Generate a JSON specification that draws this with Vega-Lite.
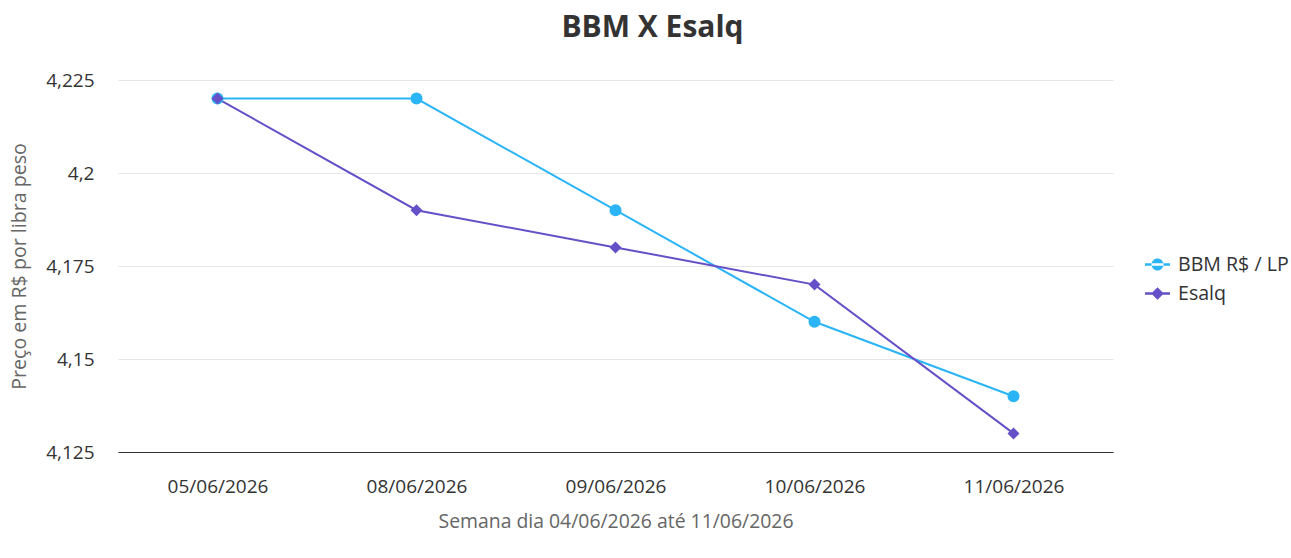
{
  "$schema": "https://vega.github.io/schema/vega-lite/v6.json",
  "width": 995,
  "height": 372,
  "autosize": {"type": "none"},
  "padding": {"left": 118, "top": 80, "right": 178, "bottom": 106},
  "background": "#ffffff",
  "title": {
    "text": "BBM X Esalq",
    "fontSize": 30,
    "fontWeight": "bold",
    "font": "Open Sans",
    "color": "#333333",
    "anchor": "middle",
    "dx": 37,
    "offset": 28
  },
  "data": {
    "values": [
      {"data": "05/06/2026", "serie": "BBM R$ / LP", "preco": 4.22},
      {"data": "08/06/2026", "serie": "BBM R$ / LP", "preco": 4.22},
      {"data": "09/06/2026", "serie": "BBM R$ / LP", "preco": 4.19},
      {"data": "10/06/2026", "serie": "BBM R$ / LP", "preco": 4.16},
      {"data": "11/06/2026", "serie": "BBM R$ / LP", "preco": 4.14},
      {"data": "05/06/2026", "serie": "Esalq", "preco": 4.22},
      {"data": "08/06/2026", "serie": "Esalq", "preco": 4.19},
      {"data": "09/06/2026", "serie": "Esalq", "preco": 4.18},
      {"data": "10/06/2026", "serie": "Esalq", "preco": 4.17},
      {"data": "11/06/2026", "serie": "Esalq", "preco": 4.13}
    ]
  },
  "encoding": {
    "x": {
      "field": "data",
      "type": "nominal",
      "sort": null,
      "scale": {"type": "point", "padding": 0.5},
      "axis": {
        "title": "Semana dia 04/06/2026 até 11/06/2026",
        "labelAngle": 0,
        "labelFontSize": 19,
        "labelColor": "#333333",
        "labelPadding": 25,
        "ticks": false,
        "domainColor": "#333333",
        "domainWidth": 1,
        "grid": false,
        "titleFontSize": 19.4,
        "titleFontWeight": "normal",
        "titleColor": "#666666",
        "titlePadding": 16
      }
    },
    "y": {
      "field": "preco",
      "type": "quantitative",
      "scale": {"domain": [4.125, 4.225], "nice": false, "zero": false},
      "axis": {
        "title": "Preço em R$ por libra peso",
        "values": [4.125, 4.15, 4.175, 4.2, 4.225],
        "labelExpr": "replace(format(datum.value, '.3~f'), '.', ',')",
        "labelFontSize": 19,
        "labelColor": "#333333",
        "labelPadding": 24,
        "ticks": false,
        "domain": false,
        "gridColor": "#e6e6e6",
        "gridWidth": 1,
        "titleFontSize": 19.6,
        "titleFontWeight": "normal",
        "titleColor": "#666666",
        "titlePadding": 16
      }
    },
    "color": {
      "field": "serie",
      "type": "nominal",
      "scale": {"domain": ["BBM R$ / LP", "Esalq"], "range": ["#2bb5f6", "#6650c8"]},
      "legend": {
        "title": null,
        "orient": "none",
        "legendX": 1027,
        "legendY": 172,
        "labelFontSize": 19.6,
        "labelColor": "#333333",
        "labelFont": "Open Sans",
        "symbolSize": 625,
        "symbolType": "M-1,-0.1H1V0.1H-1Z M-0.48,0A0.48,0.48 0 1,0 0.48,0A0.48,0.48 0 1,0 -0.48,0Z",
        "symbolStrokeWidth": 0,
        "rowPadding": 6,
        "labelOffset": 8,
        "encode": {
          "symbols": {
            "update": {
              "shape": {"signal": "datum.value === 'Esalq' ? 'M-1,-0.1H1V0.1H-1Z M0,-0.5L0.5,0L0,0.5L-0.5,0Z' : 'M-1,-0.1H1V0.1H-1Z M-0.48,0A0.48,0.48 0 1,0 0.48,0A0.48,0.48 0 1,0 -0.48,0Z'"},
              "fill": {"scale": "color", "field": "value"},
              "fillOpacity": {"value": 1},
              "strokeWidth": {"value": 0}
            }
          }
        }
      }
    }
  },
  "layer": [
    {
      "mark": {"type": "line", "strokeWidth": 2},
      "encoding": {}
    },
    {
      "transform": [{"filter": "datum.serie === 'BBM R$ / LP'"}],
      "mark": {"type": "point", "filled": true, "shape": "circle", "size": 144, "opacity": 1, "fill": "#2bb5f6", "stroke": null},
      "encoding": {"color": null}
    },
    {
      "transform": [{"filter": "datum.serie === 'Esalq'"}],
      "mark": {"type": "point", "filled": true, "shape": "diamond", "size": 144, "opacity": 1, "fill": "#6650c8", "stroke": null},
      "encoding": {"color": null}
    }
  ],
  "config": {
    "font": "Open Sans",
    "view": {"stroke": null}
  }
}
